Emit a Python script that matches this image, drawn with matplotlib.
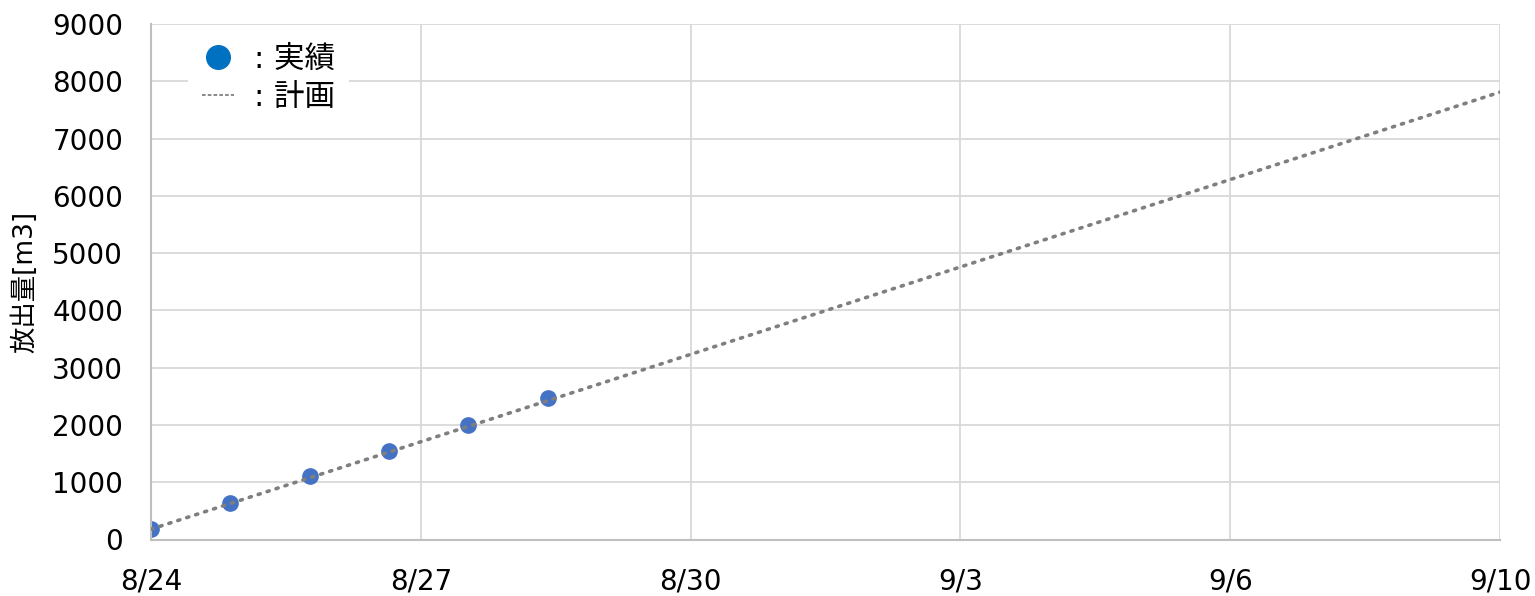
import datetime as dt
import numpy as np
import matplotlib
matplotlib.use('Agg')
import matplotlib.pyplot as plt
import matplotlib.dates as mdates
from matplotlib.lines import Line2D

plt.rcParams['font.family'] = ['DejaVu Sans', 'Noto Sans CJK JP']

# Data
actual_dates = ['2023-08-24', '2023-08-25', '2023-08-26', '2023-08-27', '2023-08-28', '2023-08-29']
actual_vals = [180, 635, 1100, 1550, 2000, 2470]
plan_dates = ['2023-08-24', '2023-09-10']
plan_vals = [180, 7810]
y_ticks = [0, 1000, 2000, 3000, 4000, 5000, 6000, 7000, 8000, 9000]

def to_num(ds):
  return mdates.date2num([dt.datetime.strptime(d, '%Y-%m-%d') for d in ds])

ax_x = to_num(actual_dates)
pl_x = to_num(plan_dates)

fig = plt.figure(figsize=(15.35, 5.96), dpi=100)
ax = fig.add_axes([151/1535, 56.5/596, (1500-151)/1535, (539.5-24)/596])

ax.plot(pl_x, plan_vals, linestyle=(0, (0.6, 2.0)), dash_capstyle='round',
        color='#7F7F7F', linewidth=2.6, zorder=3)
ax.plot(ax_x, actual_vals, linestyle='none', marker='o', markersize=11,
        color='#4472C4', zorder=2)

x0, x1 = pl_x[0], pl_x[-1]
ax.set_xlim(x0, x1)
ax.set_ylim(0, 9000)
xt = np.linspace(x0, x1, 6)
ax.set_xticks(xt)
ax.set_xticklabels(['{}/{}'.format(mdates.num2date(v).month, mdates.num2date(v).day) for v in xt])
ax.set_yticks(y_ticks)

ax.grid(True, color='#D9D9D9', linewidth=1.3)
ax.set_axisbelow(True)
for s in ['top', 'right']:
  ax.spines[s].set_visible(False)
for s in ['left', 'bottom']:
  ax.spines[s].set_color('#BFBFBF')
  ax.spines[s].set_linewidth(1.5)
ax.tick_params(axis='both', length=0, labelsize=20)
ax.tick_params(axis='x', pad=20)
ax.tick_params(axis='y', pad=20)

ax.set_ylabel('放出量[m3]', fontsize=19)
ax.yaxis.set_label_coords(-0.0838, 0.5)

handles = [
  Line2D([], [], linestyle='none', marker='o', markersize=17, color='#0070C0'),
  Line2D([], [], linestyle=(0, (2, 1.2)), color='#7F7F7F', linewidth=1.3),
]
leg = ax.legend(handles, [': 実績', ': 計画'], loc='upper left',
                bbox_to_anchor=(0.0275, 0.987), borderaxespad=0,
                fontsize=22, frameon=True,
                facecolor='white', edgecolor='none', framealpha=1,
                handlelength=1.05, handletextpad=0.66, labelspacing=0.3,
                borderpad=0.45, fancybox=False)

fig.savefig('out.png', dpi=100)
